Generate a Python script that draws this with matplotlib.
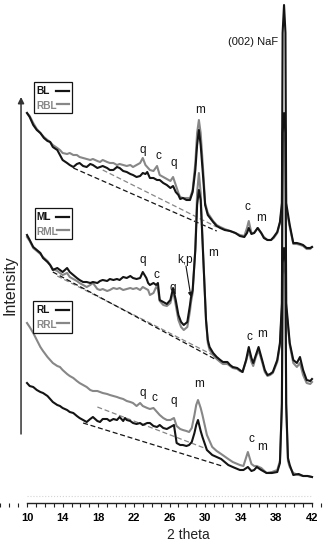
import matplotlib
matplotlib.use('Agg')
import matplotlib.pyplot as plt
from matplotlib.ticker import MultipleLocator
from matplotlib.patches import Rectangle

# ---------------- data (2 theta in degrees, intensity in arbitrary stacked units) ----------------
tick_labels = [10, 14, 18, 22, 26, 30, 34, 38, 42]

# top pair: BL / RBL
tth_top = [10.0, 10.3, 10.7, 11.1, 11.5, 11.9, 12.3, 12.6, 12.9, 13.4,
           13.7, 14.0, 14.5, 14.8, 15.2, 15.6, 15.9, 16.3, 16.7, 17.1,
           17.4, 17.9, 18.2, 18.5, 19.0, 19.3, 19.7, 20.1, 20.4, 20.8,
           21.2, 21.6, 21.9, 22.3, 22.7, 23.0, 23.3, 23.5, 23.8, 24.2,
           24.6, 24.9, 25.3, 25.7, 26.1, 26.4, 26.7, 27.0, 27.2, 27.5,
           27.9, 28.3, 28.6, 28.9, 29.1, 29.3, 29.5, 29.8, 30.0, 30.3,
           30.9, 31.3, 31.7, 32.2, 32.8, 33.4, 33.9, 34.4, 34.7, 34.9,
           35.2, 35.5, 35.9, 36.3, 36.6, 37.0, 37.4, 37.7, 38.1, 38.4,
           38.62, 38.7, 38.86, 39.02, 39.1, 39.5, 39.9, 40.3, 40.7, 41.0,
           41.4, 41.8, 42.0]
int_BL = [390, 386, 378, 373, 370, 365, 362, 361, 356, 353,
          348, 343, 340, 338, 336, 339, 340, 337, 336, 339,
          338, 335, 336, 337, 335, 333, 333, 336, 335, 332,
          331, 329, 328, 326, 327, 330, 329, 331, 325, 325,
          323, 323, 320, 318, 315, 317, 311, 308, 304, 305,
          303, 303, 311, 333, 358, 373, 358, 323, 298, 288,
          281, 277, 275, 273, 272, 270, 267, 266, 270, 275,
          269, 270, 275, 270, 265, 263, 263, 266, 271, 281,
          300, 470, 498, 470, 300, 278, 260, 260, 259, 258,
          255, 255, 256]
int_RBL = [390, 387, 380, 374, 370, 366, 363, 361, 358, 355,
           353, 350, 349, 350, 348, 348, 346, 345, 344, 343,
           344, 342, 341, 343, 341, 340, 340, 338, 339, 338,
           337, 338, 336, 338, 340, 345, 338, 336, 333, 332,
           337, 328, 326, 324, 322, 326, 318, 310, 306, 305,
           305, 305, 313, 340, 370, 383, 370, 330, 300, 290,
           282, 278, 276, 274, 272, 270, 268, 267, 275, 282,
           270, 270, 275, 270, 266, 263, 263, 265, 270, 280,
           295, 370, 385, 370, 295, 276, 259, 259, 258, 257,
           254, 254, 256]

# middle pair: ML / RML
tth_mid = [10.0, 10.3, 10.7, 11.1, 11.5, 11.8, 12.3, 12.6, 12.9, 13.4,
           13.7, 14.0, 14.5, 14.8, 15.2, 15.6, 15.9, 16.3, 16.7, 17.1,
           17.4, 17.9, 18.2, 18.5, 19.0, 19.3, 19.7, 20.1, 20.4, 20.8,
           21.2, 21.6, 21.9, 22.3, 22.7, 23.0, 23.4, 23.6, 23.8, 24.2,
           24.5, 24.7, 24.9, 25.3, 25.7, 26.1, 26.4, 26.7, 27.0, 27.3,
           27.6, 28.0, 28.3, 28.4, 28.6, 28.9, 29.1, 29.3, 29.5, 29.8,
           30.1, 30.3, 30.5, 30.9, 31.3, 31.7, 32.0, 32.5, 32.8, 33.1,
           33.6, 33.9, 34.2, 34.6, 34.9, 35.2, 35.4, 35.7, 36.0, 36.4,
           36.7, 37.0, 37.3, 37.6, 38.1, 38.4, 38.62, 38.7, 38.86, 39.02,
           39.1, 39.5, 39.9, 40.3, 40.65, 41.0, 41.4, 41.8, 42.0]
int_ML = [268, 263, 256, 253, 250, 245, 241, 238, 233, 235,
          233, 231, 235, 231, 228, 225, 223, 221, 221, 220,
          221, 220, 222, 223, 222, 224, 223, 224, 223, 226,
          225, 227, 225, 224, 225, 231, 225, 220, 218, 220,
          218, 220, 203, 201, 199, 203, 215, 203, 188, 181,
          178, 181, 198, 205, 213, 253, 298, 313, 303, 243,
          183, 163, 156, 150, 146, 143, 141, 141, 138, 136,
          135, 133, 131, 143, 156, 145, 140, 148, 156, 143,
          133, 128, 129, 131, 143, 160, 200, 370, 390, 370,
          200, 160, 143, 140, 146, 133, 123, 122, 124]
int_RML = [266, 262, 255, 252, 249, 246, 242, 238, 234, 232,
           230, 228, 230, 226, 224, 222, 220, 218, 216, 218,
           220, 214, 213, 214, 212, 213, 215, 214, 215, 213,
           214, 215, 214, 215, 213, 216, 214, 213, 208, 210,
           216, 214, 202, 198, 197, 200, 212, 198, 183, 176,
           173, 176, 192, 200, 210, 255, 310, 330, 310, 245,
           183, 160, 153, 148, 144, 141, 139, 139, 137, 135,
           134, 132, 131, 142, 152, 141, 137, 146, 153, 141,
           131, 127, 128, 130, 141, 158, 195, 360, 375, 360,
           195, 158, 140, 136, 140, 128, 120, 119, 121]

# bottom pair: RL / RRL
tth_bot = [10.0, 10.3, 10.7, 11.1, 11.5, 11.8, 12.3, 12.6, 12.9, 13.4,
           13.7, 14.0, 14.5, 14.8, 15.2, 15.6, 15.9, 16.3, 16.7, 17.1,
           17.4, 17.9, 18.2, 18.5, 19.0, 19.3, 19.7, 20.1, 20.4, 20.8,
           21.0, 21.2, 21.6, 21.9, 22.3, 22.7, 23.0, 23.5, 23.8, 24.2,
           24.6, 24.9, 25.3, 25.7, 26.1, 26.5, 26.8, 27.2, 27.5, 27.9,
           28.2, 28.5, 28.8, 29.0, 29.2, 29.5, 29.7, 30.2, 30.8, 31.3,
           31.8, 32.6, 33.1, 33.9, 34.3, 34.8, 35.2, 35.5, 35.8, 36.3,
           36.9, 37.5, 38.1, 38.4, 38.62, 38.7, 38.86, 39.02, 39.1, 39.3,
           39.5, 39.9, 40.5, 41.0, 41.5, 42.0]
int_RL = [120, 117, 116, 113, 111, 110, 107, 104, 101, 98,
          97, 95, 93, 91, 90, 87, 85, 83, 81, 84,
          86, 82, 81, 84, 84, 82, 84, 83, 86, 82,
          85, 83, 82, 80, 79, 80, 78, 80, 80, 77,
          76, 78, 75, 74, 76, 78, 60, 58, 58, 57,
          58, 61, 70, 78, 83, 72, 66, 53, 48, 46,
          44, 38, 36, 33, 33, 36, 32, 33, 36, 33,
          30, 30, 31, 40, 100, 240, 255, 240, 100, 45,
          38, 28, 29, 27, 27, 26]
int_RRL = [180, 176, 170, 163, 156, 152, 146, 143, 140, 137,
           136, 133, 129, 127, 125, 122, 120, 118, 116, 113,
           112, 112, 111, 110, 109, 108, 107, 106, 105, 104,
           103, 102, 101, 100, 97, 100, 97, 95, 94, 95,
           91, 88, 85, 83, 83, 85, 77, 74, 73, 72,
           71, 75, 88, 98, 103, 95, 88, 68, 56, 52,
           49, 44, 41, 38, 37, 51, 39, 37, 37, 35,
           30, 31, 33, 42, 95, 228, 243, 228, 95, 42,
           36, 30, 28, 27, 27, 26]

# dashed background lines (start, end)
base_top_black = ([15.2, 31.3], [335, 272])
base_top_grey = ([18.5, 31.3], [333, 276])
base_mid_black = ([12.9, 31.3], [231, 143])
base_mid_grey = ([13.4, 31.3], [227, 146])
base_bot_black = ([16.3, 31.9], [80, 37])
base_bot_grey = ([17.9, 30.2], [96, 54])

# peak annotations (text, 2theta, intensity)
peak_labels = [
    ('m', 29.43, 393), ('q', 23.03, 353), ('c', 24.71, 347), ('q', 26.51, 340),
    ('c', 34.70, 296), ('m', 36.28, 285),
    ('q', 23.03, 243), ('c', 24.48, 228), ('q', 26.39, 215), ('k,p', 27.74, 243),
    ('m', 30.89, 250), ('c', 34.93, 166), ('m', 36.39, 169),
    ('m', 29.31, 119), ('q', 23.03, 110), ('c', 24.26, 105), ('q', 26.51, 102),
    ('c', 35.15, 64), ('m', 36.39, 56),
]

# legend boxes: (black name, grey name, box x0, x1, y0, y1, text x, black row y, grey row y)
legend_sets = [
    ('BL', 'RBL', 10.79, 15.05, 390, 421, 11.0, 412, 397),
    ('ML', 'RML', 10.90, 15.05, 264, 295, 11.1, 286, 271),
    ('RL', 'RRL', 10.68, 15.05, 170, 202, 11.0, 193, 178),
]

# ---------------- drawing ----------------
BLACK = '#141414'
GREY = '#878787'
SANS = ['Liberation Sans', 'DejaVu Sans']

fig = plt.figure(figsize=(3.23, 5.5), dpi=100)
ax = fig.add_axes([0, 47 / 550, 1, 503 / 550])
ax.set_xlim(10 - 27 / 8.906, 42 + 11 / 8.906)
ax.set_ylim(0, 503)

lw = 1.5
dash = dict(lw=0.9, dashes=(4, 2.2))
ax.plot(*base_top_grey, color=GREY, **dash)
ax.plot(*base_top_black, color=BLACK, **dash)
ax.plot(*base_mid_grey, color=GREY, **dash)
ax.plot(*base_mid_black, color=BLACK, **dash)
ax.plot(*base_bot_grey, color=GREY, **dash)
ax.plot(*base_bot_black, color=BLACK, **dash)

ax.plot(tth_top, int_RBL, color=GREY, lw=lw, solid_joinstyle='round', zorder=3)
ax.plot(tth_top, int_BL, color=BLACK, lw=lw, solid_joinstyle='round', zorder=4)
ax.plot(tth_mid, int_RML, color=GREY, lw=lw, solid_joinstyle='round', zorder=3)
ax.plot(tth_mid, int_ML, color=BLACK, lw=lw, solid_joinstyle='round', zorder=4)
ax.plot(tth_bot, int_RRL, color=GREY, lw=lw, solid_joinstyle='round', zorder=3)
ax.plot(tth_bot, int_RL, color=BLACK, lw=lw, solid_joinstyle='round', zorder=4)

for txt, x, y in peak_labels:
    ax.text(x, y, txt, ha='center', va='center', fontsize=8.5, family=SANS, color=BLACK, zorder=6)

ax.text(38.2, 461, '(002) NaF', ha='right', va='center', fontsize=8, family=SANS, color=BLACK)

ax.annotate('', xy=(28.41, 206), xytext=(27.85, 237),
            arrowprops=dict(arrowstyle='-|>', lw=0.8, color=BLACK, mutation_scale=6,
                            shrinkA=0, shrinkB=0))

# legend boxes (text left, sample line right)
for nb, ng, x0, x1, y0, y1, tx, yb, yg in legend_sets:
    ax.add_patch(Rectangle((x0, y0), x1 - x0, y1 - y0, facecolor='white',
                           edgecolor=BLACK, lw=0.9, zorder=7))
    ax.text(tx, yb, nb, ha='left', va='center', fontsize=7.3, weight='bold',
            family=SANS, color=BLACK, zorder=8)
    ax.text(tx, yg, ng, ha='left', va='center', fontsize=7.3, weight='bold',
            family=SANS, color=GREY, zorder=8)
    ax.plot([13.3, 14.75], [yb, yb], color=BLACK, lw=1.6, zorder=8)
    ax.plot([13.4, 14.75], [yg + 2, yg + 2], color=GREY, lw=1.6, zorder=8)

# y arrow + label
ax.annotate('', xy=(9.33, 406), xytext=(9.33, 69),
            arrowprops=dict(arrowstyle='-|>', color='#333333', lw=1.1, mutation_scale=9,
                            shrinkA=0, shrinkB=0))
ax.text(8.09, 218, 'Intensity', rotation=90, ha='center', va='center',
        fontsize=11.5, family=SANS, color='#222222')

# faint dotted guide above axis
ax.plot([10, 42], [7, 7], ls=':', color='#d4d4d4', lw=0.8)

# x axis
for s in ['top', 'left', 'right']:
    ax.spines[s].set_visible(False)
ax.spines['bottom'].set_bounds(10, 42)
ax.spines['bottom'].set_linewidth(1.0)
ax.spines['bottom'].set_color('#222222')
ax.set_yticks([])
ax.set_xticks(tick_labels)
ax.set_xticklabels([str(t) for t in tick_labels], family=SANS, weight='bold', fontsize=8)
ax.xaxis.set_minor_locator(MultipleLocator(1))
ax.tick_params(axis='x', which='both', direction='out', length=3, width=0.8,
               color='#222222', pad=4)
ax.patch.set_visible(False)

fig.text(188 / 323, 1 - 535 / 550, '2 theta', ha='center', va='center',
         fontsize=10, family=SANS, color='#222222')

fig.savefig('out.png', dpi=100)
